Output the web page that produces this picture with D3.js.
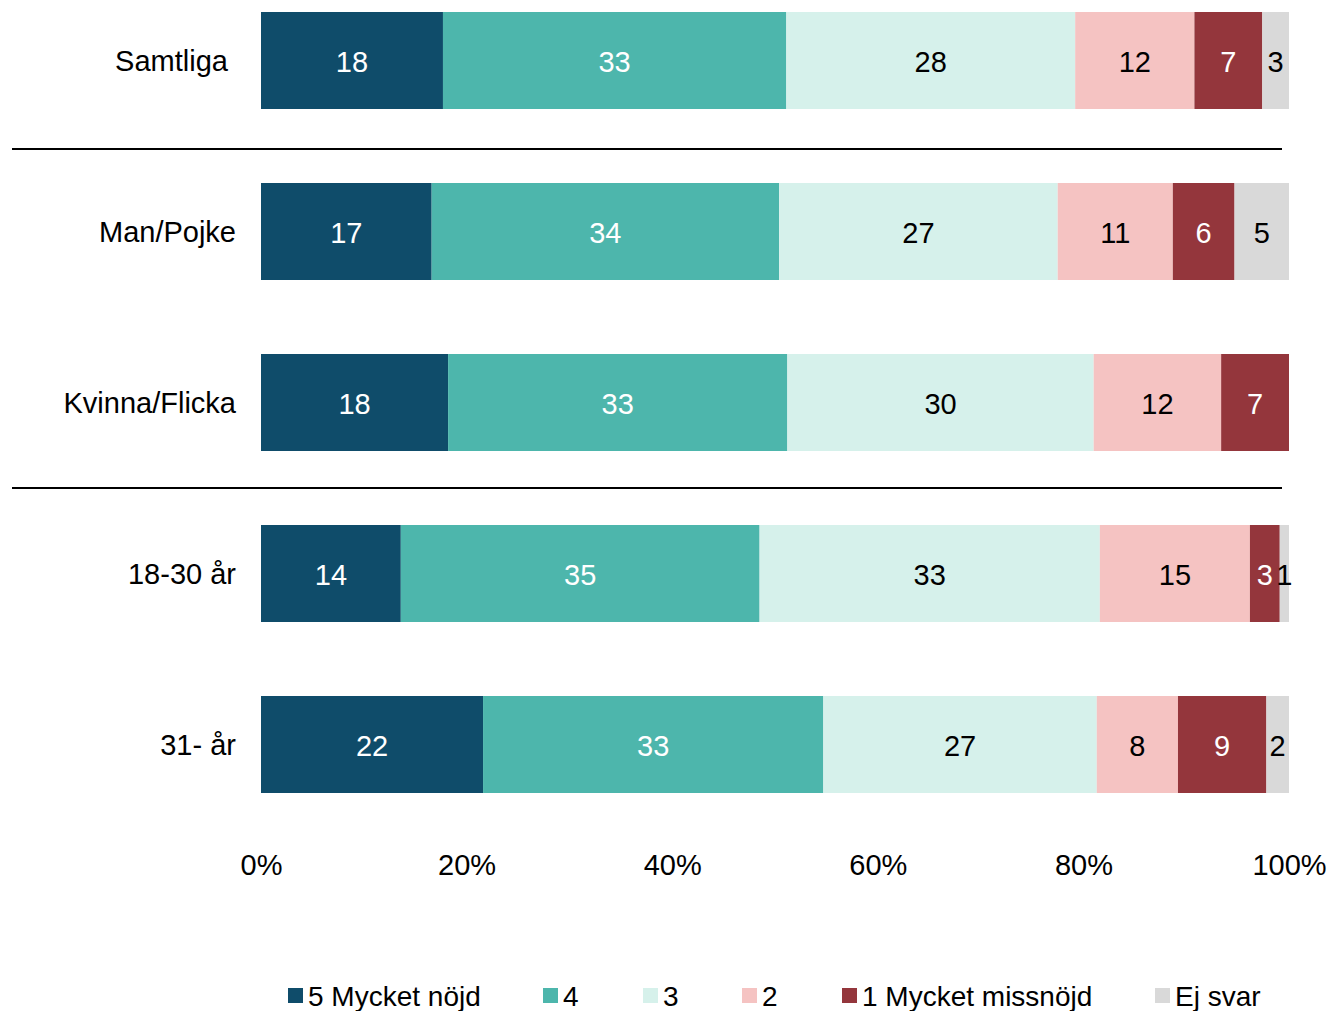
<!DOCTYPE html>
<html>
<head>
<meta charset="utf-8">
<script src="https://cdn.jsdelivr.net/npm/d3@7"></script>
<style>
  html, body { margin: 0; padding: 0; background: #fff; }
  svg { display: block; font-family: "Liberation Sans", Arial, sans-serif; }
</style>
</head>
<body>
<svg id="chart" width="1332" height="1011"></svg>
<script>
const categories = ["Samtliga", "Man/Pojke", "Kvinna/Flicka", "18-30 år", "31- år"];
const seriesNames = ["5 Mycket nöjd", "4", "3", "2", "1 Mycket missnöjd", "Ej svar"];
const s5 = [17.7, 16.6, 18.2, 13.6, 21.6];
const s4 = [33.4, 33.8, 33.0, 34.9, 33.1];
const s3 = [28.1, 27.1, 29.8, 33.1, 26.6];
const s2 = [11.6, 11.2, 12.4, 14.6, 7.9];
const s1 = [6.6, 6.0, 6.6, 2.9, 8.6];
const sEj = [2.6, 5.3, 0, 0.9, 2.2];
const tickValues = [0, 20, 40, 60, 80, 100];
const tickLabels = ["0%", "20%", "40%", "60%", "80%", "100%"];

const colors = ["#0f4c6a", "#4db6ac", "#d6f1eb", "#f5c3c2", "#94363c", "#d9d9d9"];
const labelColors = ["#ffffff", "#ffffff", "#000000", "#000000", "#ffffff", "#000000"];

const seriesValues = [s5, s4, s3, s2, s1, sEj];
const rows = categories.map((c, i) => {
  const r = { cat: c };
  seriesNames.forEach((s, j) => r[s] = seriesValues[j][i]);
  return r;
});
const stacked = d3.stack().keys(seriesNames)(rows);

const svg = d3.select("#chart");
const x = d3.scaleLinear().domain([0, 100]).range([261, 1289]);
const y = d3.scaleBand().domain(categories).range([-25, 830])
  .paddingInner(74 / 171).paddingOuter(37 / 171);

const layers = svg.append("g").selectAll("g").data(stacked).join("g")
  .attr("fill", (d, i) => colors[i]);
layers.selectAll("rect").data(d => d.map(p => ({ p, cat: p.data.cat }))).join("rect")
  .attr("x", d => x(d.p[0]))
  .attr("y", d => y(d.cat))
  .attr("width", d => x(d.p[1]) - x(d.p[0]))
  .attr("height", y.bandwidth());

// value labels
stacked.forEach((layer, i) => {
  svg.append("g").selectAll("text")
    .data(layer.filter(p => (p[1] - p[0]) >= 0.5))
    .join("text")
    .attr("x", p => (x(p[0]) + x(p[1])) / 2)
    .attr("y", p => y(p.data.cat) + y.bandwidth() / 2 + 1)
    .attr("dy", "0.36em")
    .attr("text-anchor", "middle")
    .attr("font-size", 29)
    .attr("fill", labelColors[i])
    .text(p => Math.round(p[1] - p[0]));
});

// category labels
const catLabels = { "Samtliga": "Samtliga\u00a0" };
svg.append("g").selectAll("text").data(categories).join("text")
  .attr("x", 236)
  .attr("y", c => y(c) + y.bandwidth() / 2)
  .attr("dy", "0.36em")
  .attr("text-anchor", "end")
  .attr("font-size", 29)
  .attr("fill", "#000")
  .style("white-space", "pre")
  .text(c => catLabels[c] || c);

// separator lines
const sepAfter = ["Samtliga", "Kvinna/Flicka"];
const sepOffset = [3, 0];
svg.append("g").selectAll("line").data(sepAfter).join("line")
  .attr("x1", 12).attr("x2", 1282)
  .attr("y1", (c, i) => y(c) + y.bandwidth() + (y.step() - y.bandwidth()) / 2 + sepOffset[i])
  .attr("y2", (c, i) => y(c) + y.bandwidth() + (y.step() - y.bandwidth()) / 2 + sepOffset[i])
  .attr("stroke", "#000").attr("stroke-width", 2);

// x axis
const axis = d3.axisBottom(x).tickValues(tickValues).tickSize(0)
  .tickFormat((d, i) => tickLabels[i]);
const ag = svg.append("g").attr("transform", "translate(0,865)").call(axis);
ag.select(".domain").remove();
ag.selectAll("text").attr("font-size", 29).attr("fill", "#000")
  .attr("font-family", "Liberation Sans, Arial, sans-serif").attr("y", 0).attr("dy", "0.36em");

// legend
const legendX = [288, 543, 643, 742, 842, 1155];
const lg = svg.append("g").selectAll("g").data(seriesNames).join("g")
  .attr("transform", (d, i) => `translate(${legendX[i]},988)`);
lg.append("rect").attr("width", 15).attr("height", 15).attr("fill", (d, i) => colors[i]);
lg.append("text").attr("x", 20).attr("y", 7.5).attr("dy", "0.36em")
  .attr("font-size", 28).attr("fill", "#000").text(d => d);
</script>
</body>
</html>
